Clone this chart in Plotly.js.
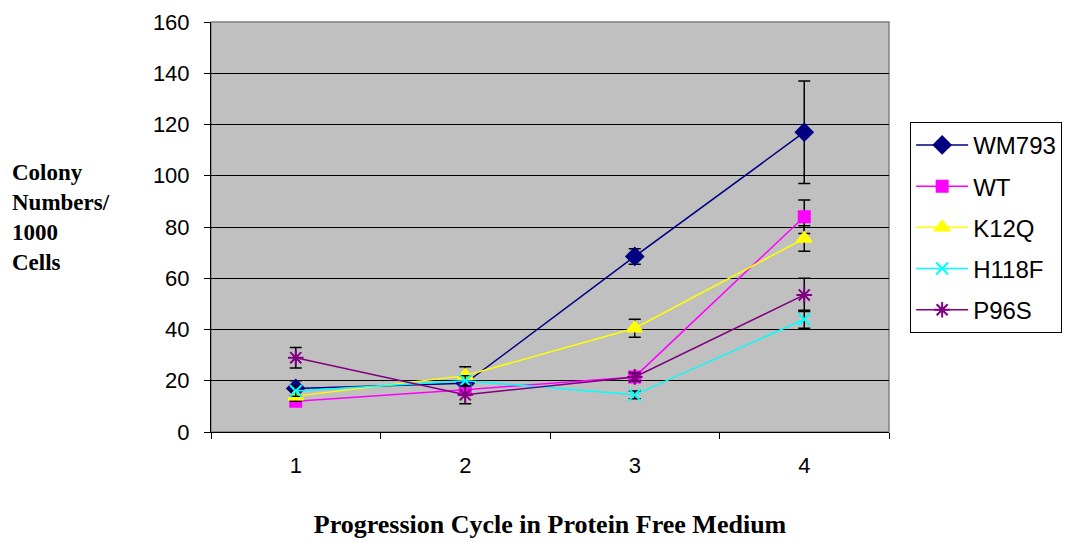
<!DOCTYPE html>
<html>
<head>
<meta charset="utf-8">
<script src="https://cdn.plot.ly/plotly-3.0.1.min.js"></script>
<style>
  html, body { margin: 0; padding: 0; background: #ffffff; }
  #chart { width: 1067px; height: 544px; }
</style>
</head>
<body>
<div id="chart"></div>
<script>
// Progression cycles in protein-free medium
const cycles = ['1', '2', '3', '4'];

// Colony numbers per 1000 cells, with error bar half-widths
const wm793 = [17, 19, 68.5, 117];
const wm793Err = [3, 2, 3, 20];
const wt = [12, 16.5, 21.5, 84];
const wtErr = [1.5, 2, 1.5, 6.5];
const k12q = [14, 22, 40.5, 75.5];
const k12qErr = [2, 3.5, 3.5, 5];
const h118f = [16, 20, 14.5, 44];
const h118fErr = [2, 2, 1.5, 3.5];
const p96s = [29, 14.5, 21.5, 53.5];
const p96sErr = [4, 3.5, 1.5, 6.5];

const seriesNames = ['WM793', 'WT', 'K12Q', 'H118F', 'P96S'];
const seriesValues = [wm793, wt, k12q, h118f, p96s];
const seriesErrors = [wm793Err, wtErr, k12qErr, h118fErr, p96sErr];
const seriesColors = ['#000080', '#FF00FF', '#FFFF00', '#00FFFF', '#800080'];
const seriesSymbols = ['diamond', 'square', 'triangle-up', 'x-thin-open', 'asterisk-open'];
const symbolSizes = [13, 11, 13, 12, 13];

const traces = seriesNames.map((name, i) => ({
  type: 'scatter',
  mode: 'lines+markers',
  name: name,
  legendgroup: name,
  x: cycles,
  y: seriesValues[i],
  line: { color: seriesColors[i], width: 1.5 },
  marker: {
    symbol: seriesSymbols[i],
    size: symbolSizes[i],
    color: seriesColors[i],
    line: { color: seriesColors[i], width: 2 }
  },
  error_y: {
    type: 'data',
    array: seriesErrors[i],
    visible: true,
    color: '#000000',
    thickness: 1.5,
    width: 6
  }
}));

const layout = {
  width: 1067,
  height: 544,
  margin: { l: 211, r: 178, t: 22, b: 112 },
  paper_bgcolor: '#ffffff',
  plot_bgcolor: '#C0C0C0',
  showlegend: true,
  font: { family: 'Liberation Sans, Arial, sans-serif', size: 22, color: '#000000' },
  xaxis: {
    type: 'category',
    range: [-0.5, 3.5],
    tickson: 'boundaries',
    ticks: 'outside',
    ticklen: 6,
    tickcolor: '#000000',
    showline: true,
    linecolor: '#000000',
    linewidth: 1,
    showgrid: false,
    zeroline: false,
    ticklabelstandoff: 14,
    tickfont: { size: 22 },
    title: {
      text: '<b>Progression Cycle in Protein Free Medium</b>',
      font: { family: 'Liberation Serif, Times New Roman, serif', size: 26 },
      standoff: 37
    }
  },
  yaxis: {
    range: [0, 160],
    dtick: 20,
    ticks: 'outside',
    ticklen: 6,
    tickcolor: '#000000',
    showline: true,
    linecolor: '#000000',
    linewidth: 1,
    showgrid: true,
    gridcolor: '#000000',
    gridwidth: 1,
    zeroline: false,
    ticklabelstandoff: 10,
    tickfont: { size: 22 }
  },
  shapes: [{
    type: 'rect', xref: 'paper', yref: 'paper',
    x0: 0, x1: 1, y0: 0, y1: 1,
    line: { color: '#808080', width: 1.5 },
    layer: 'below'
  }],
  legend: {
    xref: 'container', yref: 'container',
    x: 0.853, xanchor: 'left',
    y: 0.776, yanchor: 'top',
    bgcolor: '#ffffff',
    bordercolor: '#000000',
    borderwidth: 1,
    itemwidth: 52,
    tracegroupgap: 7,
    font: { size: 24 }
  },
  annotations: [{
    xref: 'paper', yref: 'paper',
    x: -0.296, y: 0.522,
    xanchor: 'left', yanchor: 'middle',
    align: 'left',
    showarrow: false,
    text: '<b>Colony<br>Numbers/<br>1000<br>Cells</b>',
    font: { family: 'Liberation Serif, Times New Roman, serif', size: 23, color: '#000000' }
  }]
};

Plotly.newPlot('chart', traces, layout, { displayModeBar: false, staticPlot: true });
</script>
</body>
</html>
